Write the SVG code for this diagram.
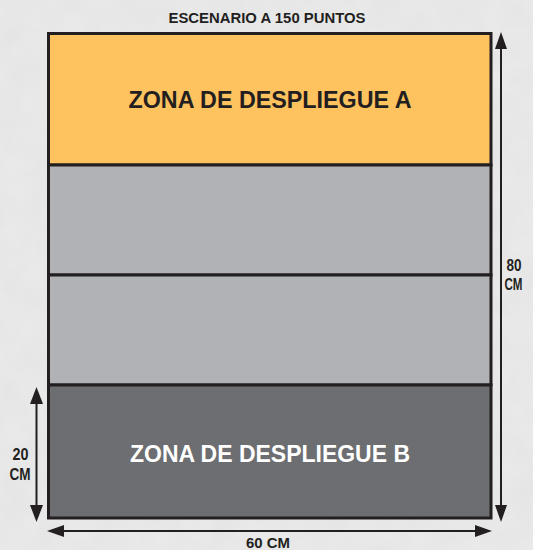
<svg xmlns="http://www.w3.org/2000/svg" width="533" height="550" viewBox="0 0 533 550">
  <defs>
    <filter id="tex" x="0" y="0" width="100%" height="100%">
      <feTurbulence type="fractalNoise" baseFrequency="0.035" numOctaves="4" seed="3" result="n"/>
      <feColorMatrix in="n" type="matrix" values="0 0 0 0 0.55  0 0 0 0 0.55  0 0 0 0 0.55  0 0 0 0.35 0"/>
    </filter>
    <style>
      .lbl { font-family: "Liberation Sans", Arial, sans-serif; font-weight: bold; fill: #231f20; text-anchor: middle; }
      .zone { stroke: #231f20; stroke-width: 3; }
      .arrow line { stroke: #231f20; stroke-width: 2; }
      .arrow polygon { fill: #231f20; }
    </style>
  </defs>
  <rect x="0" y="0" width="533" height="550" fill="#ebebeb"/>
  <rect x="0" y="0" width="533" height="550" filter="url(#tex)" opacity="0.5"/>

  <text class="lbl" x="267" y="22.5" font-size="14.5" textLength="197" lengthAdjust="spacingAndGlyphs">ESCENARIO A 150 PUNTOS</text>

  <g id="zona-a">
    <rect class="zone" x="48.5" y="33.5" width="442.5" height="131.5" fill="#fec25e"/>
    <text class="lbl" x="270" y="107.5" font-size="23" textLength="283" lengthAdjust="spacingAndGlyphs">ZONA DE DESPLIEGUE A</text>
  </g>
  <g id="zona-media-1">
    <rect class="zone" x="48.5" y="165" width="442.5" height="110" fill="#b1b2b5"/>
  </g>
  <g id="zona-media-2">
    <rect class="zone" x="48.5" y="275" width="442.5" height="110" fill="#b1b2b5"/>
  </g>
  <g id="zona-b">
    <rect class="zone" x="48.5" y="385" width="442.5" height="133" fill="#6d6e71"/>
    <text class="lbl" x="270" y="462" font-size="23" textLength="280" lengthAdjust="spacingAndGlyphs" style="fill:#ffffff">ZONA DE DESPLIEGUE B</text>
  </g>

  <g id="connectors" class="arrow">
    <line x1="501" y1="46" x2="501" y2="508"/>
    <polygon points="501,32 495,49 507,49"/>
    <polygon points="501,522 495,505 507,505"/>
    <line x1="36.5" y1="401" x2="36.5" y2="508"/>
    <polygon points="36.5,387 30,404 43,404"/>
    <polygon points="36.5,522 30,505 43,505"/>
    <line x1="61" y1="531" x2="478" y2="531"/>
    <polygon points="47,531 64,525 64,537"/>
    <polygon points="492,531 475,525 475,537"/>
  </g>

  <g id="medidas">
    <text class="lbl" x="514" y="271" font-size="16.5" textLength="15" lengthAdjust="spacingAndGlyphs">80</text>
    <text class="lbl" x="513.5" y="289.5" font-size="16.5" textLength="18" lengthAdjust="spacingAndGlyphs">CM</text>
    <text class="lbl" x="20.5" y="460" font-size="16.5" textLength="16" lengthAdjust="spacingAndGlyphs">20</text>
    <text class="lbl" x="20" y="479.5" font-size="16.5" textLength="21" lengthAdjust="spacingAndGlyphs">CM</text>
    <text class="lbl" x="268" y="547.5" font-size="15" textLength="44" lengthAdjust="spacingAndGlyphs">60 CM</text>
  </g>
</svg>
